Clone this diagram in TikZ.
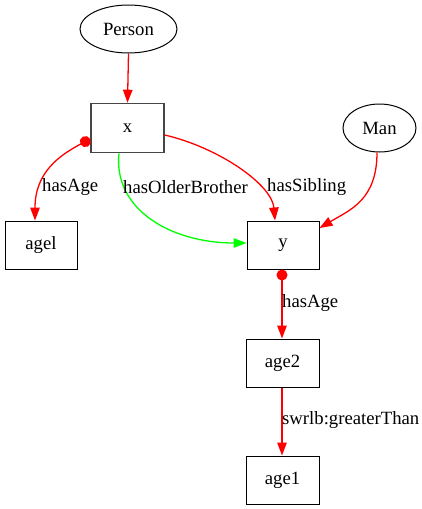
\documentclass[tikz,border=0pt]{standalone}
\usepackage{fontspec}
\setmainfont{Liberation Serif}
\usetikzlibrary{arrows.meta,shapes.geometric}
\definecolor{ered}{RGB}{255,0,0}
\definecolor{egreen}{RGB}{0,255,0}
\definecolor{xgray}{RGB}{70,70,70}
\begin{document}
\begin{tikzpicture}[x=1pt,y=-1pt,
  every node/.style={font=\fontsize{18.7}{22}\selectfont},
  boxnode/.style={draw=black,line width=1pt,minimum width=72pt,minimum height=48pt,inner sep=0pt},
  ellnode/.style={draw=black,ellipse,line width=1pt,inner sep=0pt},
  lbl/.style={inner sep=0pt,anchor=west},
  edge/.style={draw=ered,line width=1.3pt,-{Triangle[length=13pt,width=9.5pt]}},
  dotedge/.style={draw=ered,line width=1.3pt,{Circle[length=11pt]}-{Triangle[length=13pt,width=9.5pt]}},
  gedge/.style={draw=egreen,line width=1.3pt,-{Triangle[length=13pt,width=9.5pt]}}]
\useasboundingbox (0,0) rectangle (421,509);
\node[ellnode,minimum width=97pt,minimum height=48pt] (person) at (128.5,29) {Person};
\node[boxnode,draw=xgray,line width=1.6pt,minimum width=73pt,minimum height=49pt] (x) at (127.5,128) {x};
\node[ellnode,minimum width=73pt,minimum height=48pt] (man) at (379.5,128) {Man};
\node[boxnode] (agel) at (41,245) {agel};
\node[boxnode] (y) at (283,245) {y};
\node[boxnode,minimum width=73pt] (age2) at (282.5,363) {age2};
\node[boxnode,minimum width=73pt] (age1) at (282.5,480) {age1};
\draw[edge] (person.south) -- (x.north);
\draw[dotedge] ([yshift=-11pt]x.west) .. controls (60,155) and (35,172) .. (agel.north-|35,0);
\draw[gedge] ([xshift=-8.5pt]x.south) .. controls (113,210) and (172,243) .. ([yshift=2pt]y.west);
\draw[edge] ([yshift=-7pt]x.east) .. controls (220,148) and (272,185) .. ([xshift=-8pt]y.north);
\draw[edge] ([xshift=-2.5pt]man.south) .. controls (377,200) and (350,210) .. ([yshift=17pt]y.east);
\draw[dotedge] (y.south-|282,0) -- (age2.north-|282,0);
\draw[edge] (age2.south-|282,0) -- (age1.north-|282,0);
\node[lbl] (l1) at (42,187) {hasAge};
\node[lbl] (l2) at (123,187) {hasOlderBrother};
\node[lbl] (l3) at (267,187) {hasSibling};
\node[lbl] (l4) at (282,303) {hasAge};
\node[lbl] (l5) at (282,420) {swrlb:greaterThan};
\end{tikzpicture}
\end{document}
